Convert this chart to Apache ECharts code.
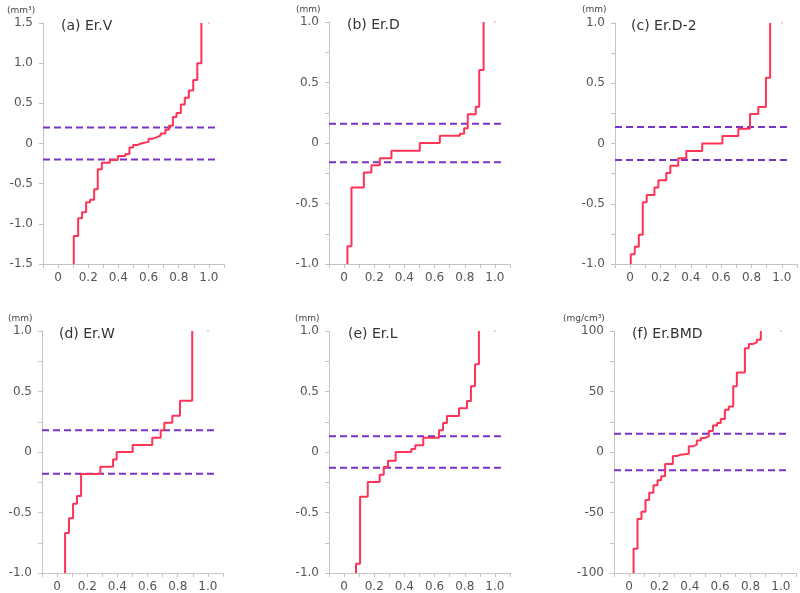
<!DOCTYPE html>
<html>
<head>
<meta charset="utf-8">
<script src="https://cdn.jsdelivr.net/npm/echarts@6/dist/echarts.min.js"></script>
<style>
html, body { margin: 0; padding: 0; background: #fff; }
#main { width: 800px; height: 593px; }
</style>
</head>
<body>
<div id="main"></div>
<script>
// step points: x = cumulative fraction, y = error at that step
var aX = [0.104, 0.104, 0.133, 0.159, 0.186, 0.212, 0.239, 0.263, 0.29, 0.343, 0.396, 0.447, 0.473, 0.498, 0.524, 0.55, 0.60, 0.628, 0.655, 0.68, 0.712, 0.735, 0.761, 0.785, 0.814, 0.84, 0.867, 0.896, 0.923, 0.95];
var aY = [-1.5, -1.15, -0.93, -0.855, -0.73, -0.70, -0.57, -0.32, -0.24, -0.205, -0.155, -0.13, -0.05, -0.02, 0.0, 0.02, 0.06, 0.08, 0.10, 0.125, 0.17, 0.22, 0.33, 0.38, 0.485, 0.57, 0.66, 0.79, 1.0, 1.5];

var bX = [0.022, 0.022, 0.049, 0.131, 0.181, 0.237, 0.314, 0.502, 0.635, 0.768, 0.796, 0.82, 0.873, 0.896, 0.925];
var bY = [-1.0, -0.854, -0.367, -0.243, -0.183, -0.125, -0.065, 0.0, 0.059, 0.076, 0.122, 0.238, 0.30, 0.604, 1.0];

var cX = [0.004, 0.004, 0.03, 0.057, 0.083, 0.109, 0.16, 0.186, 0.238, 0.265, 0.317, 0.37, 0.475, 0.608, 0.713, 0.79, 0.845, 0.895, 0.923];
var cY = [-1.0, -0.92, -0.856, -0.757, -0.488, -0.427, -0.366, -0.306, -0.245, -0.184, -0.123, -0.062, 0.0, 0.062, 0.123, 0.245, 0.303, 0.546, 1.0];

var dX = [0.053, 0.053, 0.079, 0.106, 0.132, 0.159, 0.287, 0.371, 0.395, 0.501, 0.631, 0.687, 0.711, 0.764, 0.815, 0.896];
var dY = [-1.0, -0.669, -0.548, -0.427, -0.364, -0.182, -0.121, -0.061, 0.0, 0.058, 0.118, 0.179, 0.242, 0.30, 0.424, 1.0];

var eX = [0.079, 0.079, 0.106, 0.157, 0.236, 0.263, 0.291, 0.342, 0.446, 0.472, 0.525, 0.629, 0.656, 0.682, 0.762, 0.815, 0.841, 0.868, 0.894];
var eY = [-1.0, -0.923, -0.369, -0.248, -0.187, -0.124, -0.072, 0.0, 0.025, 0.055, 0.118, 0.179, 0.24, 0.298, 0.361, 0.421, 0.543, 0.725, 1.0];

var fX = [0.029, 0.029, 0.055, 0.081, 0.108, 0.132, 0.16, 0.187, 0.211, 0.237, 0.288, 0.314, 0.341, 0.393, 0.42, 0.446, 0.473, 0.499, 0.525, 0.552, 0.58, 0.604, 0.631, 0.657, 0.686, 0.71, 0.763, 0.789, 0.815, 0.842, 0.868];
var fY = [-100, -79.9, -55.4, -49.3, -39.7, -33.6, -27.5, -23.4, -20.1, -9.9, -3.3, -2.2, -1.4, 4.7, 6.1, 9.6, 11.6, 12.9, 17.4, 22, 24, 27.3, 35, 37.7, 54.3, 65.8, 85.7, 89.3, 90.6, 92.8, 100];

var panelTitles = ["(a) Er.V", "(b) Er.D", "(c) Er.D-2", "(d) Er.W", "(e) Er.L", "(f) Er.BMD"];
var panelUnits = ["(mm³)", "(mm)", "(mm)", "(mm)", "(mm)", "(mg/cm³)"];
var thresholds = [0.2, 0.16, 0.137, 0.18, 0.13, 15];
var yMins = [-1.5, -1, -1, -1, -1, -100];
var yMaxs = [1.5, 1, 1, 1, 1, 100];
var yTickSteps = [0.5, 0.25, 0.25, 0.25, 0.25, 25];
var yLabelSteps = [0.5, 0.5, 0.5, 0.5, 0.5, 50];
var xMin = -0.1, xMax = 1.1, xTickStep = 0.1;
var dashEnd = 1.04;
var endDotX = 1.0;

var stepXs = [aX, bX, cX, dX, eX, fX];
var stepYs = [aY, bY, cY, dY, eY, fY];

var grids = [
    { left: 43, top: 23, width: 181, height: 241 },
    { left: 329, top: 22, width: 181, height: 242 },
    { left: 615, top: 23, width: 182, height: 241 },
    { left: 42, top: 331, width: 181, height: 242 },
    { left: 329, top: 331, width: 181, height: 242 },
    { left: 614, top: 331, width: 182, height: 242 }
];
var titlePos = [[56, 14], [342, 13], [626, 14], [54, 322], [343, 322], [627, 322]];
var unitPos = [[2, 1], [291, 0], [577, 0], [3, 309], [290, 309], [558, 309]];

var FONT = "DejaVu Sans";
var RED = "#ff3355";
var PURPLE = "#7a33c4";
var AXIS = "#c4c4c4";

function pairs(xs, ys) {
    var out = [];
    for (var i = 0; i < xs.length; i++) {
        out.push([xs[i], ys[i]]);
    }
    return out;
}

var option = {
    animation: false,
    backgroundColor: "#fff",
    title: [],
    grid: [],
    xAxis: [],
    yAxis: [],
    series: []
};

for (var i = 0; i < 6; i++) {
    option.grid.push(grids[i]);
    option.title.push({
        text: panelTitles[i], left: titlePos[i][0], top: titlePos[i][1],
        textStyle: { fontFamily: FONT, fontSize: 14, fontWeight: "normal", color: "#333" }
    });
    option.title.push({
        text: panelUnits[i], left: unitPos[i][0], top: unitPos[i][1],
        textStyle: { fontFamily: FONT, fontSize: 9, fontWeight: "normal", color: "#444" }
    });
    option.xAxis.push({
        type: "value", gridIndex: i, min: xMin, max: xMax, interval: xTickStep,
        axisLine: { onZero: false, lineStyle: { color: AXIS } },
        axisTick: { show: true, length: 4, lineStyle: { color: AXIS } },
        splitLine: { show: false },
        axisLabel: {
            fontFamily: FONT, fontSize: 12, color: "#555", margin: 8,
            formatter: function (v) {
                var k = Math.round(v * 10);
                if (k < 0 || k > 10 || k % 2 !== 0) return "";
                return k === 0 ? "0" : (k / 10).toFixed(1);
            }
        }
    });
    (function (labelStep, isInt) {
        option.yAxis.push({
            type: "value", gridIndex: i, min: yMins[i], max: yMaxs[i], interval: yTickSteps[i],
            axisLine: { show: true, onZero: false, lineStyle: { color: AXIS } },
            axisTick: { show: true, length: 4, lineStyle: { color: AXIS } },
            splitLine: { show: false },
            axisLabel: {
                fontFamily: FONT, fontSize: 12, color: "#555", margin: 10,
                formatter: function (v) {
                    var r = v / labelStep;
                    if (Math.abs(r - Math.round(r)) > 1e-6) return "";
                    if (Math.abs(v) < 1e-9) return "0";
                    return isInt ? String(Math.round(v)) : v.toFixed(1);
                }
            }
        });
    })(yLabelSteps[i], i === 5);

    var t = thresholds[i];
    option.series.push({
        type: "line", xAxisIndex: i, yAxisIndex: i, step: "end",
        data: pairs(stepXs[i], stepYs[i]), showSymbol: false, clip: true,
        lineStyle: { color: RED, width: 2 }, z: 3
    });
    option.series.push({
        type: "line", xAxisIndex: i, yAxisIndex: i,
        data: [[xMin, t], [dashEnd, t]], showSymbol: false,
        lineStyle: { color: PURPLE, width: 2, type: [7, 4] }, z: 2
    });
    option.series.push({
        type: "line", xAxisIndex: i, yAxisIndex: i,
        data: [[xMin, -t], [dashEnd, -t]], showSymbol: false,
        lineStyle: { color: PURPLE, width: 2, type: [7, 4] }, z: 2
    });
    option.series.push({
        type: "scatter", xAxisIndex: i, yAxisIndex: i,
        data: [[endDotX, yMaxs[i]]], symbolSize: 2,
        itemStyle: { color: "#ffaab8" }
    });
}

var myChart = echarts.init(document.getElementById("main"), null, { renderer: "canvas" });
myChart.setOption(option);
</script>
</body>
</html>
